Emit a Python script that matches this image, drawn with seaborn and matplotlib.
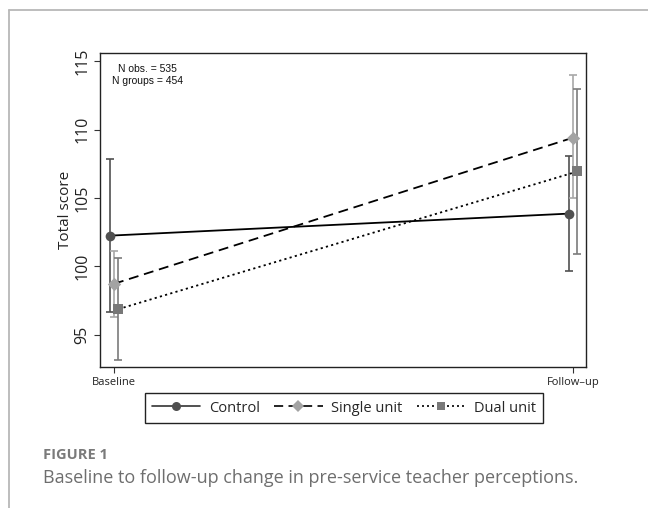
import numpy as np
import pandas as pd
import seaborn as sns
import matplotlib
matplotlib.use("Agg")
import matplotlib.pyplot as plt
from matplotlib.lines import Line2D

# Time points and groups
times = ["Baseline", "Follow\u2013up"]
groups = ["Control", "Single unit", "Dual unit"]

# Estimated means and 95% confidence limits per group
control_mean = [102.25, 103.86]
control_lo = [96.65, 99.68]
control_hi = [107.87, 108.07]

single_mean = [98.73, 109.41]
single_lo = [96.33, 104.99]
single_hi = [101.15, 113.98]

dual_mean = [96.88, 106.94]
dual_lo = [93.16, 100.91]
dual_hi = [100.62, 112.95]

n_obs = 535
n_groups = 454

means = {"Control": control_mean, "Single unit": single_mean, "Dual unit": dual_mean}
lows = {"Control": control_lo, "Single unit": single_lo, "Dual unit": dual_lo}
highs = {"Control": control_hi, "Single unit": single_hi, "Dual unit": dual_hi}

# Styling per group
offsets = {"Control": -0.0095, "Single unit": 0.0, "Dual unit": 0.0095}
marker_col = {"Control": "#505050", "Single unit": "#a3a3a3", "Dual unit": "#787878"}
err_col = {"Control": "#505050", "Single unit": "#a8a8a8", "Dual unit": "#7c7c7c"}
markers = {"Control": "o", "Single unit": "D", "Dual unit": "s"}
msize = {"Control": 7.0, "Single unit": 6.8, "Dual unit": 6.5}
dash = {"Control": None, "Single unit": (5.5, 3.2), "Dual unit": (1.2, 1.8)}

rows = []
for g in groups:
    for i, t in enumerate(times):
        rows.append({"group": g, "time": t, "pos": i + offsets[g],
                     "score": means[g][i], "lo": lows[g][i], "hi": highs[g][i]})
df = pd.DataFrame(rows)

sns.set_theme(style="white")
plt.rcParams["font.family"] = ["Open Sans", "DejaVu Sans"]

fig = plt.figure(figsize=(6.48, 5.08), dpi=100)

# Outer frame lines of the figure panel
fig.add_artist(Line2D([9 / 648, 1.0], [1 - 10 / 508, 1 - 10 / 508],
                      transform=fig.transFigure, color="#b8b8b8", lw=1.3))
fig.add_artist(Line2D([9 / 648, 9 / 648], [0.0, 1 - 10 / 508],
                      transform=fig.transFigure, color="#b8b8b8", lw=1.3))

ax = fig.add_axes([100 / 648, 1 - 367 / 508, 486 / 648, 314 / 508])
ax.set_facecolor("white")

for g in groups:
    sub = df[df["group"] == g]
    ax.errorbar(sub["pos"], sub["score"],
                yerr=[sub["score"] - sub["lo"], sub["hi"] - sub["score"]],
                fmt="none", ecolor=err_col[g], elinewidth=1.2, capsize=3, capthick=1.2,
                zorder=2)
    sns.lineplot(data=sub, x="pos", y="score", ax=ax, legend=False,
                 errorbar=None, color="black", lw=1.3, zorder=3)
    if dash[g] is not None:
        ax.lines[-1].set_dashes(dash[g])

for g in groups:
    sub = df[df["group"] == g]
    sns.scatterplot(data=sub, x="pos", y="score", color=marker_col[g],
                    marker=markers[g], s=msize[g] ** 2, linewidth=0,
                    ax=ax, legend=False, zorder=4)

ax.set_xlim(-0.0305, 1.0283)
ax.set_ylim(92.65, 115.6)
ax.set_xticks([0, 1])
ax.set_xticklabels(times, fontsize=8, color="#222222")
ax.set_yticks([95, 100, 105, 110, 115])
ax.set_yticklabels(["95", "100", "105", "110", "115"], rotation=90, va="center",
                   fontsize=11.5, color="#222222")
ax.tick_params(axis="both", which="major", length=4, width=0.8, color="#333333",
               bottom=True, left=True, pad=3)
ax.set_xlabel("")
ax.set_ylabel("Total score", fontsize=11, color="#222222", labelpad=1)
for s in ax.spines.values():
    s.set_color("#222222")
    s.set_linewidth(1.0)

ax.text(0.098, 0.965, f"N obs. = {n_obs}\nN groups = {n_groups}", transform=ax.transAxes,
        ha="center", va="top", fontsize=7.5, family="Liberation Sans", linespacing=1.2,
        color="#111111")

handles = []
for g in groups:
    h = Line2D([], [], color="#333333" if g == "Control" else "black", lw=1.2,
               marker=markers[g], markersize=msize[g] - 0.5, markerfacecolor=marker_col[g],
               markeredgewidth=0, linestyle="-")
    if dash[g] is not None:
        h.set_dashes(dash[g])
    handles.append(h)
leg = fig.legend(handles, groups, loc="center", bbox_to_anchor=(344 / 648, 1 - 408 / 508),
                 ncol=3, frameon=True, fancybox=False, fontsize=10.5, handlelength=3.3,
                 handletextpad=0.6, columnspacing=1.0, borderpad=0.5, edgecolor="#222222",
                 framealpha=1)
leg.get_frame().set_linewidth(1.0)

fig.text(43 / 648, 1 - 455 / 508, "FIGURE 1", fontsize=10.5, fontweight="bold",
         color="#7a7a7a", va="center", ha="left")
fig.text(43 / 648, 1 - 478 / 508,
         "Baseline to follow-up change in pre-service teacher perceptions.",
         fontsize=13, color="#6e6e6e", va="center", ha="left")

fig.savefig("out.png", dpi=100)
